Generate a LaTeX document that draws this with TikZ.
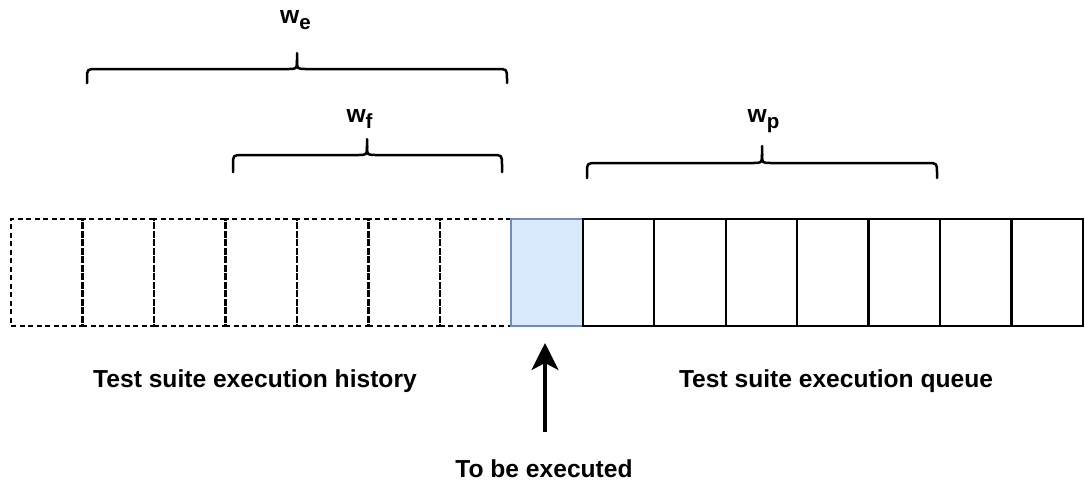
\documentclass[tikz,border=0pt]{standalone}
\usepackage{fontspec}
\setmainfont{Liberation Sans}
\usetikzlibrary{arrows.meta}
\definecolor{execfill}{HTML}{DAE8FC}
\definecolor{execline}{HTML}{6C8EBF}
% lowered subscript for the window labels
\newcommand\winsub[1]{\raisebox{-6.5pt}{\fontsize{20.5}{24}\selectfont #1}}
% curly brace: left x, right x, middle x, tip y, bar y, foot y
\newcommand\bracepath[6]{%
  \draw[brace] (#1,#6) -- (#1,#5+10) .. controls (#1,#5) .. (#1+10,#5)
    -- (#3-9,#5) .. controls (#3,#5) .. (#3,#5-9) -- (#3,#4);
  \draw[brace] (#2,#6) -- (#2,#5+10) .. controls (#2,#5) .. (#2-10,#5)
    -- (#3+9,#5) .. controls (#3,#5) .. (#3,#5-9);
}
\begin{document}
\begin{tikzpicture}[x=1pt,y=-1pt,
  cell/.style={draw=black, line width=2.4pt, minimum width=71.47pt,
    minimum height=107pt, inner sep=0pt, outer sep=0pt, anchor=north west},
  histcell/.style={cell, dash pattern=on 5pt off 3.5pt},
  nextcell/.style={cell, draw=execline, fill=execfill},
  brace/.style={line width=2.5pt, line cap=round, line join=round},
  lbl/.style={font=\bfseries\fontsize{24.6}{28}\selectfont, inner sep=0pt, anchor=base},
  pointer/.style={line width=3.6pt, -{Stealth[length=27pt,width=27pt,inset=7pt]}}
]
\useasboundingbox (0,0) rectangle (1085,483);

% execution history (dashed cells)
\foreach \i in {0,...,6}
  \node[histcell] (h\i) at (11+71.47*\i,219) {};
% test suite about to run
\node[nextcell] (next) at (11+71.47*7,219) {};
% execution queue (solid cells)
\foreach \i in {0,...,6}
  \node[cell] (q\i) at (11+71.47*8+71.47*\i,219) {};

% windows
\bracepath{87}{507}{297}{53}{69}{83}
\bracepath{233}{502}{367}{139}{155}{172}
\bracepath{587}{937}{762}{146}{163}{178}

\node[lbl] (we) at (295.5,23) {w\winsub{e}};
\node[lbl] (wf) at (359.5,122) {w\winsub{f}};
\node[lbl] (wp) at (763.5,122) {w\winsub{p}};

% captions
\node[lbl] (hist) at (255,387) {Test suite execution history};
\node[lbl] (queue) at (836,387) {Test suite execution queue};
\node[lbl] (tobe) at (544,477) {To be executed};

% pointer to the next test suite
\coordinate (ptail) at (545,432);
\coordinate (ptip) at (545,343);
\draw[pointer] (ptail) -- (ptip);
\end{tikzpicture}
\end{document}
